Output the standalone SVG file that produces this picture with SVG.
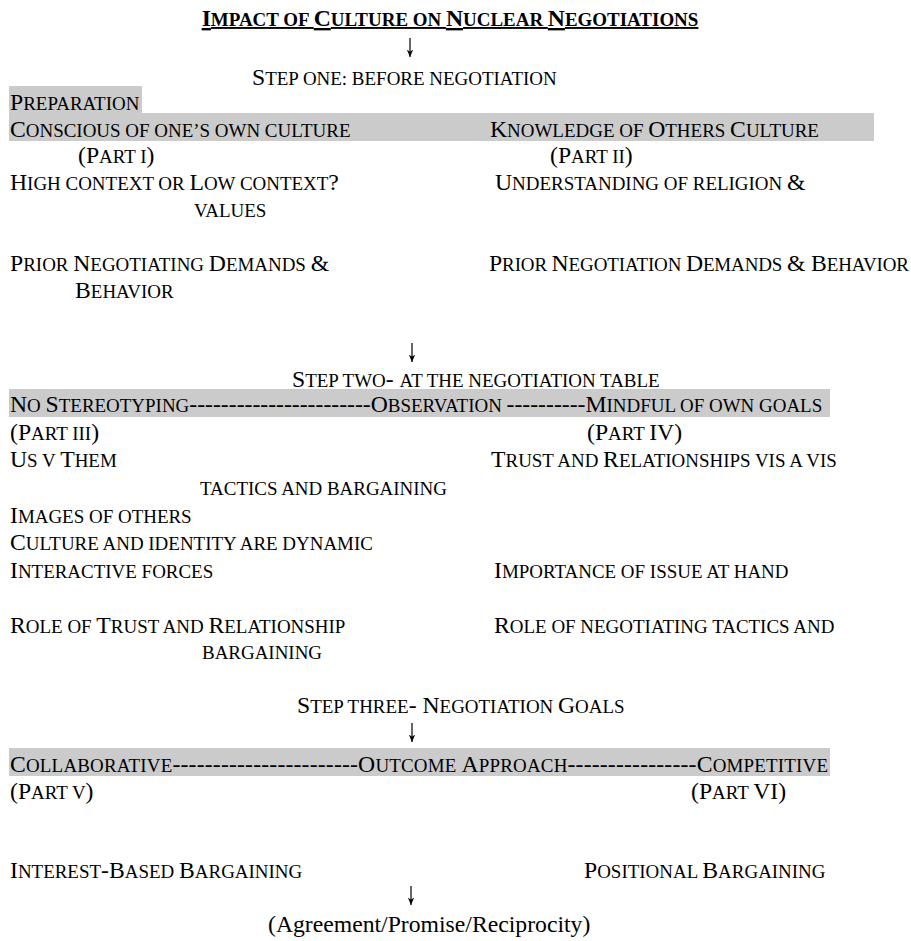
<svg xmlns="http://www.w3.org/2000/svg" width="911" height="941" viewBox="0 0 911 941">
<defs>
<style>
text{font-family:"Liberation Serif","Times New Roman",serif;font-size:23.7px;fill:#000}
.s{font-size:0.8em}
.b{font-weight:bold}
.hl{fill:#cbcbcb}
.arr{stroke:#000;stroke-width:1.2;fill:none}
</style>
<marker id="ah" markerWidth="8" markerHeight="8" refX="7.5" refY="4" orient="auto" markerUnits="userSpaceOnUse" viewBox="0 0 8 8">
<path d="M0,0.8 L7.5,4 L0,7.2 L2.2,4 Z" fill="#000"/>
</marker>
</defs>
<rect width="911" height="941" fill="#fff"/>
<g id="highlights">
<rect class="hl" x="9" y="86" width="133" height="27"/>
<rect class="hl" x="9" y="113" width="865" height="28"/>
<rect class="hl" x="9" y="389" width="821" height="28"/>
<rect class="hl" x="9" y="748" width="821" height="28"/>
</g>
<g id="connectors">
<line class="arr" x1="410" y1="38" x2="410" y2="57" marker-end="url(#ah)"/>
<line class="arr" x1="412" y1="343" x2="412" y2="362" marker-end="url(#ah)"/>
<line class="arr" x1="412" y1="723" x2="412" y2="742" marker-end="url(#ah)"/>
<line class="arr" x1="411" y1="886" x2="411" y2="905" marker-end="url(#ah)"/>
</g>
<g id="title"><text class="b" x="450" y="26" text-anchor="middle" text-decoration="underline">I<tspan class="s">MPACT OF </tspan>C<tspan class="s">ULTURE ON </tspan>N<tspan class="s">UCLEAR </tspan>N<tspan class="s">EGOTIATIONS</tspan></text></g>
<g id="step1"><text x="252" y="85">S<tspan class="s">TEP ONE: BEFORE NEGOTIATION</tspan></text></g>
<g id="preparation"><text x="10" y="110">P<tspan class="s">REPARATION</tspan></text></g>
<g id="conscious"><text x="10" y="137">C<tspan class="s">ONSCIOUS OF ONE’S OWN CULTURE</tspan></text></g>
<g id="knowledge"><text x="490" y="137">K<tspan class="s">NOWLEDGE OF </tspan>O<tspan class="s">THERS </tspan>C<tspan class="s">ULTURE</tspan></text></g>
<g id="part1"><text x="78" y="163">(P<tspan class="s">ART I</tspan>)</text></g>
<g id="part2"><text x="550" y="163">(P<tspan class="s">ART II</tspan>)</text></g>
<g id="highlow"><text x="10" y="190">H<tspan class="s">IGH CONTEXT OR </tspan>L<tspan class="s">OW CONTEXT</tspan>?</text></g>
<g id="religion"><text x="495" y="190">U<tspan class="s">NDERSTANDING OF RELIGION </tspan>&amp;</text>
<text x="194" y="217"><tspan class="s">VALUES</tspan></text></g>
<g id="prior-own"><text x="10" y="271">P<tspan class="s">RIOR </tspan>N<tspan class="s">EGOTIATING </tspan>D<tspan class="s">EMANDS </tspan>&amp;</text>
<text x="75" y="298">B<tspan class="s">EHAVIOR</tspan></text></g>
<g id="prior-other"><text x="489" y="271" textLength="420" lengthAdjust="spacing">P<tspan class="s">RIOR </tspan>N<tspan class="s">EGOTIATION </tspan>D<tspan class="s">EMANDS </tspan>&amp; B<tspan class="s">EHAVIOR</tspan></text></g>
<g id="step2"><text x="292" y="387">S<tspan class="s">TEP TWO</tspan>- <tspan class="s">AT THE NEGOTIATION TABLE</tspan></text></g>
<g id="observation"><text x="10" y="412">N<tspan class="s">O </tspan>S<tspan class="s">TEREOTYPING</tspan>-----------------------O<tspan class="s">BSERVATION </tspan>----------M<tspan class="s">INDFUL OF OWN GOALS</tspan></text></g>
<g id="part3"><text x="10" y="440">(P<tspan class="s">ART III</tspan>)</text></g>
<g id="part4"><text x="587" y="440">(P<tspan class="s">ART </tspan>IV)</text></g>
<g id="usvthem"><text x="10" y="467">U<tspan class="s">S V </tspan>T<tspan class="s">HEM</tspan></text></g>
<g id="trust"><text x="491" y="467">T<tspan class="s">RUST AND </tspan>R<tspan class="s">ELATIONSHIPS VIS A VIS</tspan></text>
<text x="200" y="495"><tspan class="s">TACTICS AND BARGAINING</tspan></text></g>
<g id="images"><text x="10" y="523">I<tspan class="s">MAGES OF OTHERS</tspan></text></g>
<g id="identity"><text x="10" y="550">C<tspan class="s">ULTURE AND IDENTITY ARE DYNAMIC</tspan></text></g>
<g id="interactive"><text x="10" y="578">I<tspan class="s">NTERACTIVE FORCES</tspan></text></g>
<g id="importance"><text x="494" y="578">I<tspan class="s">MPORTANCE OF ISSUE AT HAND</tspan></text></g>
<g id="role-trust"><text x="10" y="633">R<tspan class="s">OLE OF </tspan>T<tspan class="s">RUST AND </tspan>R<tspan class="s">ELATIONSHIP</tspan></text></g>
<g id="role-tactics"><text x="494" y="633">R<tspan class="s">OLE OF NEGOTIATING TACTICS AND</tspan></text>
<text x="202" y="659"><tspan class="s">BARGAINING</tspan></text></g>
<g id="step3"><text x="297" y="713">S<tspan class="s">TEP THREE</tspan>- N<tspan class="s">EGOTIATION </tspan>G<tspan class="s">OALS</tspan></text></g>
<g id="outcome"><text x="10" y="772" textLength="818" lengthAdjust="spacing">C<tspan class="s">OLLABORATIVE</tspan>-----------------------O<tspan class="s">UTCOME </tspan>A<tspan class="s">PPROACH</tspan>----------------C<tspan class="s">OMPETITIVE</tspan></text></g>
<g id="part5"><text x="10" y="799">(P<tspan class="s">ART V</tspan>)</text></g>
<g id="part6"><text x="691" y="799">(P<tspan class="s">ART </tspan>VI)</text></g>
<g id="interest"><text x="10" y="878">I<tspan class="s">NTEREST</tspan>-B<tspan class="s">ASED </tspan>B<tspan class="s">ARGAINING</tspan></text></g>
<g id="positional"><text x="584" y="878">P<tspan class="s">OSITIONAL </tspan>B<tspan class="s">ARGAINING</tspan></text></g>
<g id="agreement"><text x="268" y="932">(Agreement/Promise/Reciprocity)</text></g>
</svg>
